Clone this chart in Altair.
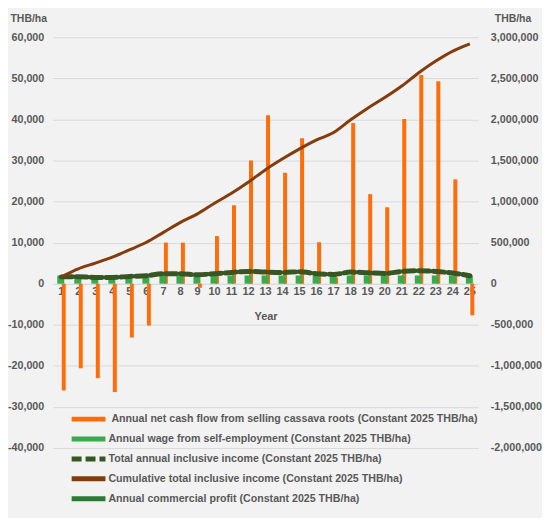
import altair as alt
import pandas as pd

years = list(range(1, 26))
net_cash = [-26000, -20600, -23000, -26400, -13100, -10200, 10000, 10000, -1000, 11600,
            19100, 30000, 41000, 27000, 35400, 10100, 1500, 39100, 21800, 18600,
            40100, 50800, 49300, 25400, -7700]
wage = [2000] * 25
total_annual = [83000, 85000, 76000, 76000, 88000, 97000, 121000, 121000, 109000, 121000,
                137000, 149000, 141000, 137000, 145000, 121000, 113000, 141000, 133000, 125000,
                149000, 157000, 149000, 129000, 97000]
cumulative = [83000, 181000, 250000, 323000, 411000, 504000, 625000, 746000, 850000, 980000,
              1100000, 1237000, 1388000, 1520000, 1641000, 1750000, 1840000, 1995000, 2137000, 2266000,
              2407000, 2568000, 2710000, 2831000, 2919000]
commercial = [83000, 85000, 76000, 76000, 88000, 97000, 121000, 121000, 109000, 121000,
              137000, 149000, 141000, 137000, 145000, 121000, 113000, 141000, 133000, 125000,
              149000, 157000, 149000, 129000, 97000]

S_NET = "Annual net cash flow from selling cassava roots (Constant 2025 THB/ha)"
S_WAGE = "Annual wage from self-employment (Constant 2025 THB/ha)"
S_TOT = "Total annual inclusive income (Constant 2025 THB/ha)"
S_CUM = "Cumulative total inclusive income (Constant 2025 THB/ha)"
S_COM = "Annual commercial profit (Constant 2025 THB/ha)"
names = [S_NET, S_WAGE, S_TOT, S_CUM, S_COM]
colors = ["#FF6D0A", "#3BAA4F", "#375623", "#843C0C", "#2B7A34"]
legend_widths = [5, 5, 5, 3, 3]
legend_dashes = [[1, 0], [1, 0], [10, 4], [1, 0], [1, 0]]

rows = []
for name, vals in [(S_NET, net_cash), (S_WAGE, wage), (S_TOT, total_annual),
                   (S_CUM, cumulative), (S_COM, commercial)]:
    for y, v in zip(years, vals):
        rows.append({"year": y, "series": name, "value": v})
df = pd.DataFrame(rows)
legend_df = pd.DataFrame({"series": names})

GREY = "#595959"
FONT = "Liberation Sans"
LABEL_EXPR = "(datum.value < 0 ? '-' : '') + format(abs(datum.value), ',')"

color = alt.Color("series:N", scale=alt.Scale(domain=names, range=colors), legend=None)

x = alt.X(
    "year:O",
    scale=alt.Scale(paddingInner=0, paddingOuter=0),
    axis=alt.Axis(
        title="Year", labelAngle=0, offset=-165, domainColor="#D9D9D9", ticks=False,
        labelFont=FONT, labelFontSize=11, labelFontWeight="bold", labelColor=GREY,
        labelPadding=2, titleFont=FONT, titleFontSize=11, titleFontWeight="bold",
        titleColor=GREY, titlePadding=14,
    ),
)

y_left = alt.Y(
    "value:Q",
    scale=alt.Scale(domain=[-40000, 60000], nice=False, zero=False),
    axis=alt.Axis(
        title="THB/ha", values=list(range(-40000, 60001, 10000)), labelExpr=LABEL_EXPR,
        grid=True, gridColor="#D9D9D9", domain=False, ticks=False,
        labelFont=FONT, labelFontSize=10.8, labelFontWeight="bold", labelColor=GREY,
        labelPadding=9, titleAngle=0, titleAlign="left", titleBaseline="middle",
        titleX=-43, titleY=-19, titleFont=FONT, titleFontSize=10.5,
        titleFontWeight="bold", titleColor=GREY,
    ),
)

y_right = alt.Y(
    "value:Q",
    scale=alt.Scale(domain=[-2000000, 3000000], nice=False, zero=False),
    axis=alt.Axis(
        title="THB/ha", orient="right", values=list(range(-2000000, 3000001, 500000)),
        labelExpr=LABEL_EXPR, grid=False, domain=False, ticks=False,
        labelFont=FONT, labelFontSize=10.8, labelFontWeight="bold", labelColor=GREY,
        labelPadding=12, labelAlign="left", titleAngle=0, titleAlign="left",
        titleBaseline="middle", titleX=16, titleY=-19, titleFont=FONT,
        titleFontSize=10.5, titleFontWeight="bold", titleColor=GREY,
    ),
)

base = alt.Chart(df)

orange = base.transform_filter(alt.datum.series == S_NET).mark_bar(
    width=4, xOffset=2.5).encode(x=x, y=y_left, color=color)
green = base.transform_filter(alt.datum.series == S_WAGE).mark_bar(
    width=7, xOffset=-0.5).encode(x=x, y=y_left, color=color)
bars = alt.layer(orange, green)

com = base.transform_filter(alt.datum.series == S_COM).mark_line(
    strokeWidth=3, interpolate="monotone").encode(x=x, y=y_right, color=color)
tot = base.transform_filter(alt.datum.series == S_TOT).mark_line(
    strokeWidth=5, strokeDash=[11, 4], interpolate="monotone", strokeCap="round"
).encode(x=x, y=y_right, color=color)
cum = base.transform_filter(alt.datum.series == S_CUM).mark_line(
    strokeWidth=3, interpolate="monotone").encode(x=x, y=y_right, color=color)
lines = alt.layer(com, tot, cum)

# legend (drawn as marks inside the plot)
ly = alt.Y("series:N", scale=alt.Scale(type="point", domain=names, range=[384, 464], padding=0),
           axis=None)
leg_sym = alt.Chart(legend_df).mark_rule(strokeCap="butt").encode(
    x=alt.value(19), x2=alt.value(53), y=ly, color=color,
    strokeWidth=alt.StrokeWidth("series:O", scale=alt.Scale(domain=names, range=legend_widths), legend=None),
    strokeDash=alt.StrokeDash("series:N", scale=alt.Scale(domain=names, range=legend_dashes), legend=None),
)
txt_style = dict(align="left", baseline="middle", font=FONT, fontSize=10.7,
                 fontWeight="bold", color=GREY)
leg_txt1 = alt.Chart(legend_df).transform_filter(alt.datum.series == S_NET).mark_text(
    **txt_style).encode(x=alt.value(59), y=ly, text="series:N")
leg_txt2 = alt.Chart(legend_df).transform_filter(alt.datum.series != S_NET).mark_text(
    **txt_style).encode(x=alt.value(56), y=ly, text="series:N")
legend = alt.layer(leg_sym, leg_txt1, leg_txt2)

chart = alt.layer(bars, lines, legend).resolve_scale(y="independent").properties(
    width=428, height=413,
    padding={"left": 45, "top": 28, "right": 64, "bottom": 69},
    autosize=alt.AutoSizeParams(type="none"),
    background="#F2F2F2",
).configure_view(stroke=None)

chart.save("out.html", embed_options={"renderer": "svg", "actions": False})
